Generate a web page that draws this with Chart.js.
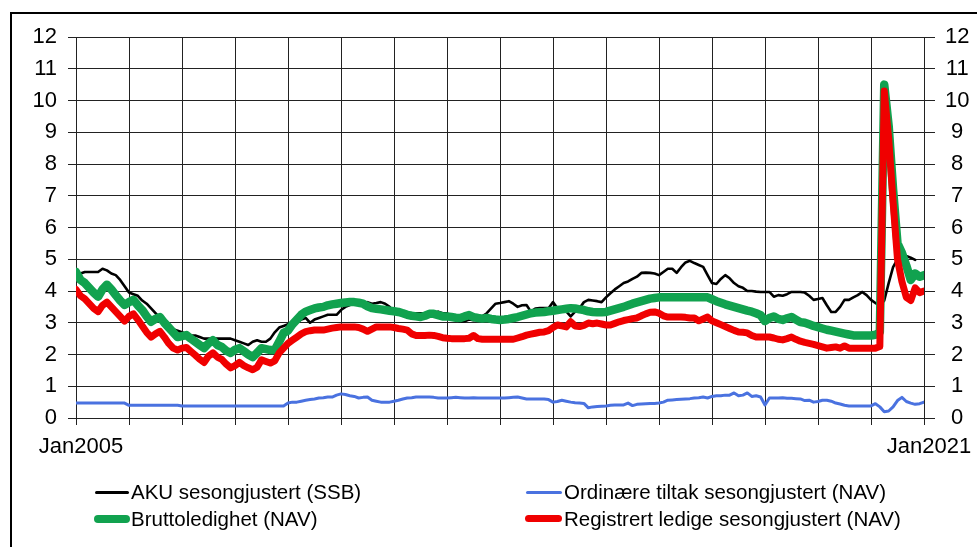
<!DOCTYPE html>
<html>
<head>
<meta charset="utf-8">
<script src="https://cdn.jsdelivr.net/npm/chart.js@4.4.1/dist/chart.umd.min.js"></script>
<style>
  html, body { margin: 0; padding: 0; background: #fff; overflow: hidden; }
  #wrap { position: relative; width: 977px; height: 547px; }
  #frame { position: absolute; left: 10px; top: 12px; width: 1200px; height: 800px;
           border-top: 2px solid #000; border-left: 2px solid #000; }
  canvas { position: absolute; left: 0; top: 0; }
  .key { position: absolute; font-family: "Liberation Sans", Arial, sans-serif; font-size: 20.5px;
         color: #000; white-space: nowrap; line-height: 24px; }
  .swatch { position: absolute; border-radius: 5px; }
</style>
</head>
<body>
<div id="wrap">
  <div id="frame"></div>
  <canvas id="axes" width="977" height="547"></canvas>
  <canvas id="c" width="977" height="547"></canvas>
  <div class="swatch" style="left:95px;top:491px;width:34px;height:3px;background:#000"></div>
  <div class="key" style="left:131px;top:480px">AKU sesongjustert (SSB)</div>
  <div class="swatch" style="left:526px;top:491px;width:36px;height:3px;background:#4a72e0"></div>
  <div class="key" style="left:564px;top:480px">Ordinære tiltak sesongjustert (NAV)</div>
  <div class="swatch" style="left:94px;top:515px;width:36px;height:8px;background:#11a24f"></div>
  <div class="key" style="left:131px;top:507px">Bruttoledighet (NAV)</div>
  <div class="swatch" style="left:525px;top:515px;width:37px;height:7px;background:#f00000"></div>
  <div class="key" style="left:564px;top:507px">Registrert ledige sesongjustert (NAV)</div>
</div>
<script>
// months Jan2005 .. Jan2021
const monthNames = ['Jan', 'Feb', 'Mar', 'Apr', 'May', 'Jun', 'Jul', 'Aug', 'Sep', 'Oct', 'Nov', 'Dec'];
const months = [];
for (let y = 2005; y <= 2021; y++) {
    for (let m = 0; m < 12; m++) {
        months.push(monthNames[m] + y);
        if (y === 2021) break;
    }
}
const tickLabels = ['Jan2005', 'Jan2021'];

// AKU sesongjustert (SSB)
const aku = [
    4.4, 4.55, 4.6, 4.6, 4.6, 4.6, 4.7, 4.65, 4.55, 4.5, 4.35, 4.15,
    3.95, 3.9, 3.85, 3.7, 3.6, 3.45, 3.3, 3.15, 3.0, 2.9, 2.8, 2.75,
    2.7, 2.65, 2.6, 2.6, 2.55, 2.5, 2.5, 2.5, 2.5, 2.5, 2.5, 2.5,
    2.45, 2.4, 2.35, 2.3, 2.4, 2.45, 2.4, 2.4, 2.5, 2.7, 2.85, 2.9,
    2.95, 3.0, 3.02, 3.1, 3.15, 3.0, 3.1, 3.15, 3.2, 3.25, 3.25, 3.25,
    3.4, 3.5, 3.56, 3.6, 3.62, 3.6, 3.65, 3.6, 3.62, 3.65, 3.6, 3.5,
    3.35, 3.25, 3.25, 3.2, 3.25, 3.3, 3.3, 3.3, 3.3, 3.3, 3.35, 3.3,
    3.3, 3.2, 3.1, 3.03, 3.05, 3.1, 3.08, 3.1, 3.2, 3.3, 3.45, 3.6,
    3.62, 3.65, 3.68, 3.6, 3.5, 3.55, 3.56, 3.35, 3.45, 3.46, 3.46, 3.46,
    3.65, 3.46, 3.42, 3.36, 3.2, 3.35, 3.46, 3.65, 3.72, 3.7, 3.68, 3.65,
    3.8, 3.93, 4.05, 4.15, 4.25, 4.3, 4.38, 4.45, 4.57, 4.58, 4.57, 4.55,
    4.5, 4.6, 4.7, 4.7, 4.57, 4.75, 4.9, 4.95, 4.88, 4.82, 4.76, 4.5,
    4.25, 4.22, 4.38, 4.5, 4.4, 4.25, 4.15, 4.1, 4.0, 4.0, 3.98, 3.97,
    3.97, 3.97, 3.82, 3.87, 3.85, 3.9, 3.97, 3.97, 3.97, 3.95, 3.85, 3.72,
    3.75, 3.78, 3.55, 3.34, 3.34, 3.5, 3.72, 3.72, 3.8, 3.87, 3.97, 3.87,
    3.72, 3.62, 3.55, 3.7, 4.25, 4.75, 5.0, 5.15, 5.1, 5.05, 4.98
];

// Ordinære tiltak sesongjustert (NAV)
const tiltak = [
    0.47, 0.47, 0.47, 0.47, 0.47, 0.47, 0.47, 0.47, 0.47, 0.47, 0.47, 0.47,
    0.4, 0.4, 0.4, 0.4, 0.4, 0.4, 0.4, 0.4, 0.4, 0.4, 0.4, 0.4,
    0.38, 0.38, 0.38, 0.38, 0.38, 0.38, 0.38, 0.38, 0.38, 0.38, 0.38, 0.38,
    0.38, 0.38, 0.38, 0.38, 0.38, 0.38, 0.38, 0.38, 0.38, 0.38, 0.38, 0.38,
    0.47, 0.5, 0.5, 0.53, 0.56, 0.58, 0.6, 0.63, 0.64, 0.66, 0.66, 0.72,
    0.76, 0.74, 0.7, 0.68, 0.63, 0.65, 0.66, 0.56, 0.53, 0.5, 0.5, 0.5,
    0.53, 0.56, 0.6, 0.63, 0.64, 0.66, 0.66, 0.66, 0.66, 0.65, 0.63, 0.63,
    0.63, 0.64, 0.65, 0.64, 0.63, 0.63, 0.64, 0.63, 0.63, 0.63, 0.63, 0.63,
    0.63, 0.63, 0.64, 0.65, 0.66, 0.63, 0.6, 0.6, 0.6, 0.6, 0.6, 0.58,
    0.5, 0.52, 0.56, 0.53, 0.5, 0.48, 0.47, 0.46, 0.32, 0.35, 0.36, 0.37,
    0.38, 0.4, 0.41, 0.41, 0.41, 0.47, 0.39, 0.43, 0.44, 0.45, 0.46, 0.46,
    0.47, 0.5, 0.56, 0.57, 0.58, 0.59, 0.6, 0.61, 0.63, 0.64, 0.66, 0.63,
    0.68, 0.7, 0.7, 0.72, 0.72, 0.79, 0.7, 0.72, 0.79, 0.68, 0.7, 0.66,
    0.41, 0.63, 0.63, 0.63, 0.64, 0.62, 0.62, 0.61, 0.6, 0.55, 0.56, 0.5,
    0.52, 0.56, 0.56, 0.53, 0.47, 0.44, 0.4, 0.38, 0.38, 0.38, 0.38, 0.38,
    0.38, 0.45, 0.35, 0.2, 0.22, 0.35, 0.55, 0.65, 0.52, 0.47, 0.43, 0.45,
    0.5
];

// Bruttoledighet (NAV)
const brutto = [
    4.6, 4.35, 4.25, 4.1, 3.95, 3.82, 4.05, 4.2, 4.05, 3.87, 3.7, 3.56,
    3.65, 3.72, 3.55, 3.4, 3.2, 3.03, 3.12, 3.18, 3.0, 2.85, 2.7, 2.55,
    2.58, 2.61, 2.5, 2.4, 2.3, 2.2, 2.35, 2.45, 2.3, 2.24, 2.12, 2.05,
    2.15, 2.2, 2.1, 2.0, 1.92, 2.05, 2.2, 2.17, 2.14, 2.14, 2.4, 2.68,
    2.75, 2.95, 3.1, 3.25, 3.35, 3.4, 3.45, 3.48, 3.5, 3.55, 3.58, 3.6,
    3.62, 3.64, 3.65, 3.65, 3.63, 3.6, 3.52, 3.46, 3.44, 3.42, 3.4, 3.38,
    3.36, 3.34, 3.3, 3.25, 3.22, 3.2, 3.18, 3.22, 3.28, 3.28, 3.24, 3.2,
    3.2, 3.18, 3.16, 3.15, 3.2, 3.24, 3.18, 3.15, 3.13, 3.15, 3.12, 3.1,
    3.09, 3.1, 3.12, 3.15, 3.18, 3.22, 3.26, 3.3, 3.32, 3.33, 3.34, 3.36,
    3.38, 3.4, 3.42, 3.44, 3.46, 3.45, 3.42, 3.4, 3.36, 3.34, 3.33, 3.33,
    3.34, 3.38, 3.42, 3.46, 3.5, 3.55, 3.6, 3.64, 3.68, 3.72, 3.76, 3.78,
    3.8, 3.8, 3.8, 3.8, 3.8, 3.8, 3.8, 3.8, 3.8, 3.8, 3.8, 3.8,
    3.74, 3.68, 3.63, 3.58, 3.54, 3.5, 3.46, 3.42, 3.38, 3.35, 3.3, 3.24,
    3.05, 3.15, 3.2, 3.12, 3.09, 3.14, 3.18, 3.1, 3.02, 3.0, 2.95, 2.9,
    2.86, 2.82, 2.78, 2.75, 2.72, 2.69, 2.66, 2.63, 2.6, 2.6, 2.6, 2.6,
    2.6, 2.62, 2.7, 10.5, 9.2, 7.2, 5.5, 5.2, 4.8, 4.35, 4.55, 4.45,
    4.5
];

// Registrert ledige sesongjustert (NAV)
const ledige = [
    4.05, 3.85, 3.75, 3.6, 3.45, 3.35, 3.55, 3.65, 3.5, 3.35, 3.2, 3.05,
    3.2, 3.28, 3.1, 2.9, 2.7, 2.55, 2.65, 2.73, 2.55, 2.35, 2.2, 2.14,
    2.2, 2.22, 2.1, 1.98, 1.85, 1.75, 1.95, 2.05, 1.92, 1.85, 1.7, 1.58,
    1.65, 1.75, 1.65, 1.58, 1.52, 1.6, 1.83, 1.78, 1.73, 1.8, 2.05, 2.2,
    2.35, 2.45, 2.55, 2.65, 2.72, 2.75, 2.77, 2.77, 2.77, 2.8, 2.83, 2.85,
    2.87, 2.87, 2.87, 2.87, 2.85, 2.8, 2.73, 2.8, 2.87, 2.87, 2.87, 2.87,
    2.85, 2.82, 2.8, 2.77, 2.65, 2.6, 2.6, 2.6, 2.61, 2.6, 2.57, 2.53,
    2.51, 2.5, 2.5, 2.5, 2.5, 2.51, 2.6, 2.5, 2.48, 2.48, 2.48, 2.48,
    2.48, 2.48, 2.48, 2.48, 2.52, 2.56, 2.61, 2.64, 2.67, 2.7, 2.71, 2.75,
    2.85, 2.93, 2.9, 2.87, 3.03, 2.9, 2.88, 2.92, 2.99, 2.97, 2.99, 2.96,
    2.93, 2.93, 2.98, 3.03, 3.07, 3.1, 3.13, 3.15, 3.22, 3.28, 3.33, 3.34,
    3.3, 3.22, 3.18, 3.18, 3.18, 3.18, 3.17, 3.15, 3.15, 3.06, 3.12, 3.18,
    3.06, 3.0, 2.94, 2.88, 2.82, 2.76, 2.71, 2.7, 2.68, 2.6, 2.55, 2.55,
    2.55, 2.55, 2.52, 2.48, 2.46, 2.5, 2.55, 2.48, 2.42, 2.38, 2.35, 2.32,
    2.28, 2.24, 2.2, 2.22, 2.24, 2.2, 2.27, 2.2, 2.2, 2.2, 2.2, 2.2,
    2.2, 2.2, 2.25, 10.3, 8.8, 6.8, 5.0, 4.3, 3.8, 3.7, 4.1, 3.95,
    4.0
];

const gridColor = '#222';
const tickFont = { family: '"Liberation Sans", Arial, sans-serif', size: 22 };

// same box sizes on both canvases so the two plot areas line up exactly
function makeScales(show) {
    const ink = show ? '#000' : 'rgba(0,0,0,0)';
    return {
        x: {
            type: 'linear',
            min: 0,
            max: months.length - 1,
            border: { display: false },
            grid: { display: show, color: gridColor, lineWidth: 1, tickLength: 7 },
            ticks: {
                stepSize: 12, autoSkip: false, maxRotation: 0, minRotation: 0,
                padding: 9, labelOffset: 5, color: ink, font: tickFont,
                callback: (v) => (tickLabels.includes(months[v]) ? months[v] : '')
            },
            afterFit: (s) => { s.height = 129; }
        },
        y: {
            position: 'left', min: 0, max: 12,
            border: { display: false },
            grid: { display: show, color: gridColor, lineWidth: 1, tickLength: 8 },
            ticks: { stepSize: 1, padding: 11, color: ink, font: tickFont },
            afterFit: (s) => { s.width = 76; }
        },
        y2: {
            position: 'right', min: 0, max: 12,
            border: { display: false },
            grid: { display: show, color: gridColor, lineWidth: 1, tickLength: 11, drawOnChartArea: false },
            ticks: { stepSize: 1, padding: 10, crossAlign: 'center', color: ink, font: tickFont },
            afterFit: (s) => { s.width = 53; }
        }
    };
}

const baseOptions = {
    responsive: false,
    animation: false,
    devicePixelRatio: 1,
    events: [],
    layout: { padding: { top: 37, left: 0, right: 0, bottom: 0 } },
    plugins: { legend: { display: false }, tooltip: { enabled: false } }
};

// back canvas: grid, ticks and labels only
new Chart(document.getElementById('axes').getContext('2d'), {
    type: 'line',
    data: { datasets: [] },
    options: Object.assign({}, baseOptions, { scales: makeScales(true) })
});

function toPoints(values) {
    return values.map((v, i) => ({ x: i, y: v }));
}

function series(label, values, color, width, order) {
    return {
        label: label,
        data: toPoints(values),
        borderColor: color,
        borderWidth: width,
        pointRadius: 0,
        borderJoinStyle: 'round',
        borderCapStyle: 'round',
        order: order
    };
}

// front canvas: the four series
new Chart(document.getElementById('c').getContext('2d'), {
    type: 'line',
    data: {
        datasets: [
            series('AKU sesongjustert (SSB)', aku, '#000000', 2.6, 3),
            series('Ordinære tiltak sesongjustert (NAV)', tiltak, '#4a72e0', 3, 2),
            series('Bruttoledighet (NAV)', brutto, '#11a24f', 8.5, 1),
            series('Registrert ledige sesongjustert (NAV)', ledige, '#f00000', 7, 0)
        ]
    },
    options: Object.assign({}, baseOptions, { scales: makeScales(false) })
});
</script>
</body>
</html>
